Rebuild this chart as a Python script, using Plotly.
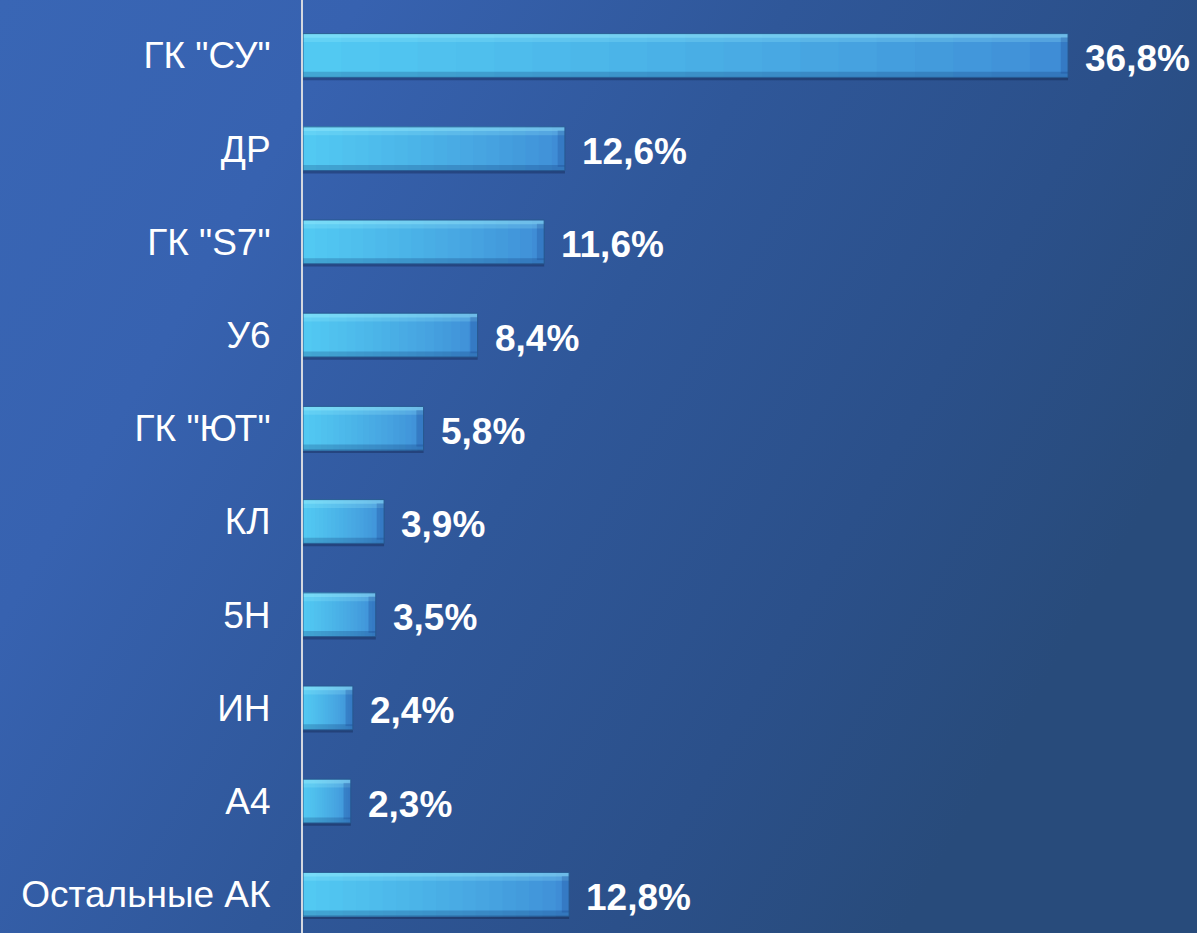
import base64
import plotly.graph_objects as go

# ---------------- data ----------------
categories = ['ГК "СУ"', 'ДР', 'ГК "S7"', 'У6', 'ГК "ЮТ"', 'КЛ', '5Н', 'ИН', 'А4', 'Остальные АК']
shares = [36.8, 12.6, 11.6, 8.4, 5.8, 3.9, 3.5, 2.4, 2.3, 12.8]
value_labels = [f"{v:.1f}".replace(".", ",") + "%" for v in shares]

# ---------------- style ----------------
W, H = 1197, 933
AXIS_X = 303
PX_PER_UNIT = 20.79
ROW0_Y = 55.5
ROW_STEP = 93.2
BAR_W = 0.47
BEVEL = 0.35          # right bevel face width in axis units (~7 px)
FONT = "Liberation Sans, Arial, sans-serif"

x_max = (W - AXIS_X) / PX_PER_UNIT
y_top = -ROW0_Y / ROW_STEP
y_bot = (H - ROW0_Y) / ROW_STEP


def lerp_color(c1, c2, t):
    a = [int(c1[i:i + 2], 16) for i in (1, 3, 5)]
    b = [int(c2[i:i + 2], 16) for i in (1, 3, 5)]
    return "rgb(%d,%d,%d)" % tuple(round(a[i] + (b[i] - a[i]) * t) for i in range(3))


fig = go.Figure()

# drop shadow
fig.add_trace(go.Bar(
    y=categories, x=shares, orientation="h",
    offset=-BAR_W / 2 + 0.03, width=BAR_W,
    marker=dict(color="rgba(5,15,45,0.30)", line=dict(width=0)),
    hoverinfo="skip", showlegend=False,
))

# horizontal gradient inside each bar (darker at right end, light at left)
N = 20
dark, light = "#3f8dd6", "#52c9f2"
for k in range(N):
    f = 1 - k / N
    t = (k / (N - 1)) ** 0.8
    fig.add_trace(go.Bar(
        y=categories, x=[v * f for v in shares], orientation="h",
        offset=-BAR_W / 2, width=BAR_W,
        marker=dict(color=lerp_color(dark, light, t), line=dict(width=0)),
        hoverinfo="skip", showlegend=False,
    ))

# top bevel highlight (soft, two layers)
fig.add_trace(go.Bar(
    y=categories, x=shares, orientation="h",
    offset=-BAR_W / 2, width=0.09,
    marker=dict(color="rgba(160,240,255,0.22)", line=dict(width=0)),
    hoverinfo="skip", showlegend=False,
))
fig.add_trace(go.Bar(
    y=categories, x=shares, orientation="h",
    offset=-BAR_W / 2, width=0.045,
    marker=dict(color="rgba(170,245,255,0.30)", line=dict(width=0)),
    hoverinfo="skip", showlegend=False,
))
# bottom bevel shade
fig.add_trace(go.Bar(
    y=categories, x=shares, orientation="h",
    offset=BAR_W / 2 - 0.06, width=0.06,
    marker=dict(color="rgba(10,40,100,0.22)", line=dict(width=0)),
    hoverinfo="skip", showlegend=False,
))
# right bevel face
fig.add_trace(go.Bar(
    y=categories, x=[BEVEL] * len(shares), base=[v - BEVEL for v in shares],
    orientation="h", offset=-BAR_W / 2 + 0.04, width=BAR_W - 0.08,
    marker=dict(color="rgba(20,55,130,0.22)", line=dict(width=0)),
    hoverinfo="skip", showlegend=False,
))
# outline
fig.add_trace(go.Bar(
    y=categories, x=shares, orientation="h",
    offset=-BAR_W / 2, width=BAR_W,
    marker=dict(color="rgba(0,0,0,0)", line=dict(color="#27588f", width=1)),
    hoverinfo="skip", showlegend=False,
))

# value labels
for cat, v, lab in zip(categories, shares, value_labels):
    fig.add_annotation(
        x=v, y=cat, text=lab, showarrow=False,
        xanchor="left", yanchor="middle", xshift=15, yshift=-3,
        font=dict(family=FONT, size=37, color="white", weight="bold"),
    )

# background gradient (SVG data URI)
svg = f'''<svg xmlns="http://www.w3.org/2000/svg" width="{W}" height="{H}" viewBox="0 0 {W} {H}" preserveAspectRatio="none">
<defs><linearGradient id="g" x1="0" y1="0" x2="1" y2="0.45">
<stop offset="0" stop-color="#3966b5"/>
<stop offset="0.25" stop-color="#3762b0"/>
<stop offset="0.55" stop-color="#2f5799"/>
<stop offset="0.8" stop-color="#2b508a"/>
<stop offset="1" stop-color="#284b7b"/>
</linearGradient></defs>
<rect width="{W}" height="{H}" fill="url(#g)"/></svg>'''
src = "data:image/svg+xml;base64," + base64.b64encode(svg.encode()).decode()

fig.update_layout(
    width=W, height=H,
    margin=dict(l=0, r=0, t=0, b=0),
    paper_bgcolor="#2f5698", plot_bgcolor="rgba(0,0,0,0)",
    barmode="overlay", showlegend=False,
    images=[dict(source=src, xref="paper", yref="paper", x=0, y=1,
                 sizex=1, sizey=1, xanchor="left", yanchor="top",
                 sizing="stretch", layer="below")],
    xaxis=dict(domain=[AXIS_X / W, 1], range=[0, x_max], visible=False,
               showgrid=False, zeroline=False, fixedrange=True),
    yaxis=dict(categoryorder="array", categoryarray=categories,
               range=[y_bot, y_top], showgrid=False, zeroline=False,
               showline=True, linecolor="#d4d8e0", linewidth=2,
               ticks="", ticklabelstandoff=23,
               tickfont=dict(family=FONT, size=37, color="white"),
               fixedrange=True),
)

fig.write_html(
    "out.html",
    config={"displayModeBar": False},
    post_script="document.body.style.margin='0';document.body.style.overflow='hidden';",
)
